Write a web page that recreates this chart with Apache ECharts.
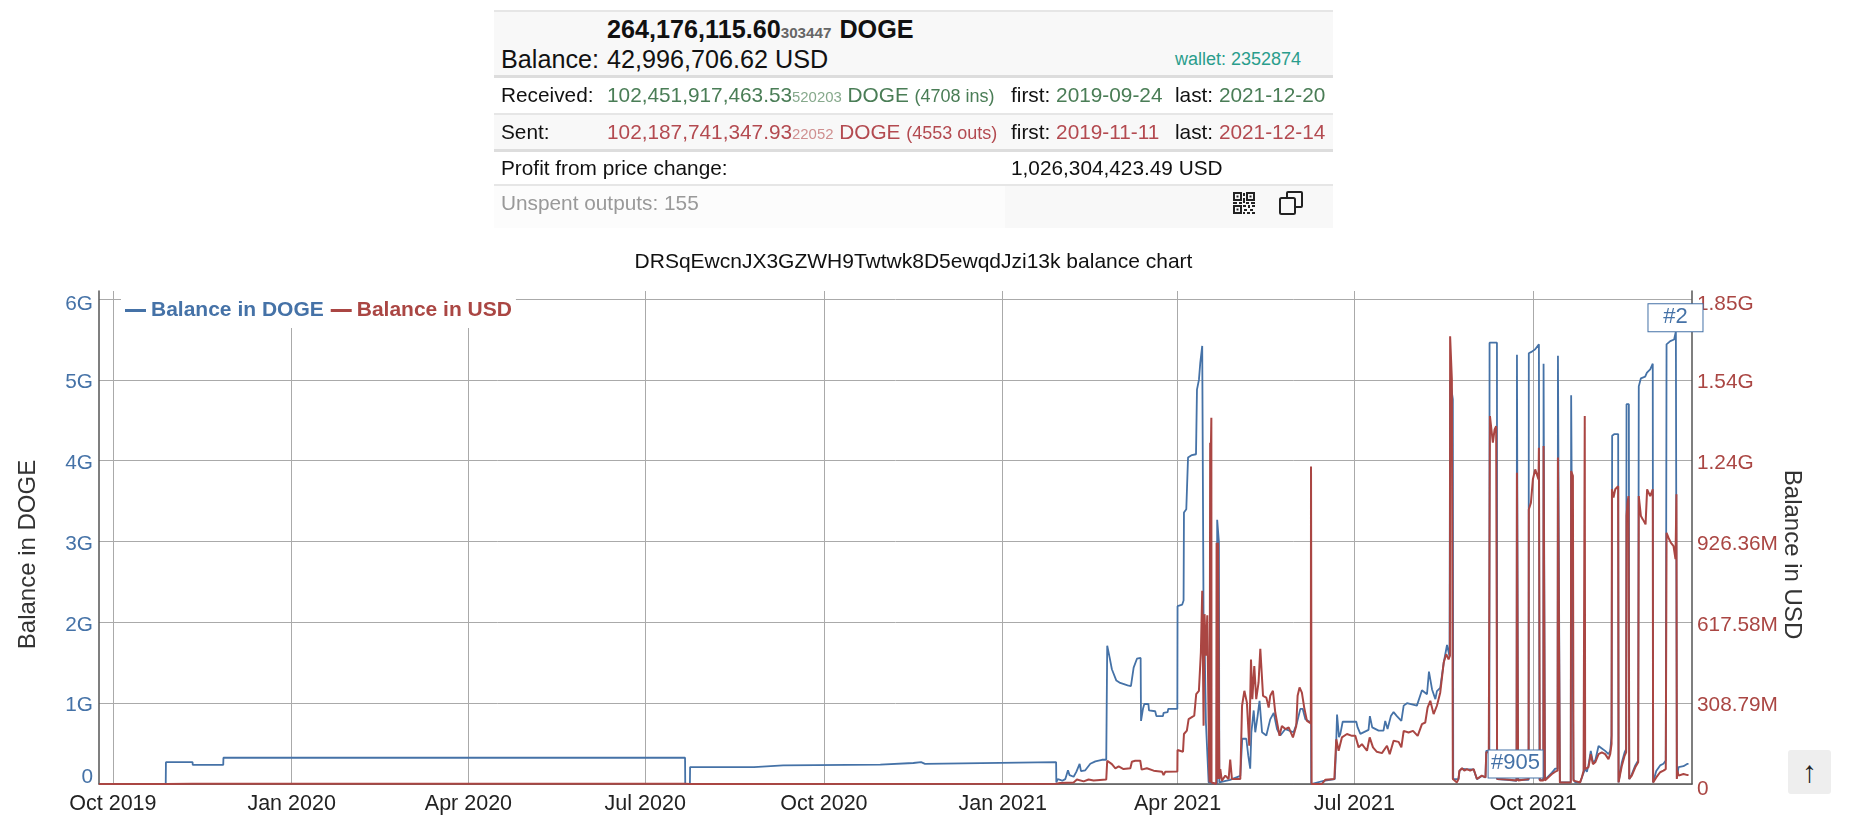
<!DOCTYPE html>
<html>
<head>
<meta charset="utf-8">
<title>DRSqEwcnJX3GZWH9Twtwk8D5ewqdJzi13k balance chart</title>
<script src="https://cdn.jsdelivr.net/npm/echarts@6/dist/echarts.min.js"></script>
<style>
html, body { margin: 0; padding: 0; background: #fff; font-family: "Liberation Sans", Arial, sans-serif; }
#chart1 { position: absolute; left: 0; top: 0; width: 1854px; height: 815px; }
#info { position: absolute; left: 494px; top: 10px; width: 839px; height: 218px; color: #111; font-size: 20.8px; }
.row { position: absolute; left: 0; width: 839px; box-sizing: border-box; }
.row span, .row svg { position: absolute; white-space: nowrap; }
.gray { background: #f8f8f8; }
.c1 { left: 7px; } .c2 { left: 113px; } .c3 { left: 517px; } .c4 { left: 681px; }
.big { font-size: 25.2px; }
.green { color: #4a7d56; } .green small { color: #86a98c; font-size: 14.9px; } .green i { font-style: normal; font-size: 18px; }
.red { color: #b34a50; } .red small { color: #cf8f8f; font-size: 14.9px; } .red i { font-style: normal; font-size: 18px; }
#up { position: absolute; left: 1788px; top: 750px; width: 43px; height: 44px; background: #eee; border-radius: 3px; text-align: center; font-size: 30px; line-height: 44px; color: #222; }
</style>
</head>
<body>
<div id="chart1"></div>

<div id="info">
  <div class="row gray" style="top:0;height:68px;border-top:2px solid #e6e6e6;border-bottom:3px solid #ddd">
    <span class="c2 big" style="top:2px;line-height:30px"><b>264,176,115.60<small style="font-size:15.2px;color:#666">303447</small> <span style="position:static;margin-left:1px">DOGE</span></b></span>
    <span class="c1 big" style="top:32px;line-height:30px">Balance:</span>
    <span class="c2 big" style="top:32px;line-height:30px">42,996,706.62 USD</span>
    <span class="c4" style="top:33px;line-height:28px;font-size:18px;color:#2a9d8c">wallet: 2352874</span>
  </div>
  <div class="row" style="top:68px;height:37px;border-bottom:2px solid #e6e6e6">
    <span class="c1" style="top:2px;line-height:30px">Received:</span>
    <span class="c2 green" style="top:2px;line-height:30px">102,451,917,463.53<small>520203</small> DOGE <i>(4708 ins)</i></span>
    <span class="c3" style="top:2px;line-height:30px">first: <em class="green" style="font-style:normal">2019-09-24</em></span>
    <span class="c4" style="top:2px;line-height:30px">last: <em class="green" style="font-style:normal">2021-12-20</em></span>
  </div>
  <div class="row gray" style="top:105px;height:37px;border-bottom:3px solid #ddd">
    <span class="c1" style="top:2px;line-height:30px">Sent:</span>
    <span class="c2 red" style="top:2px;line-height:30px">102,187,741,347.93<small>22052</small> DOGE <i>(4553 outs)</i></span>
    <span class="c3" style="top:2px;line-height:30px">first: <em class="red" style="font-style:normal">2019-11-11</em></span>
    <span class="c4" style="top:2px;line-height:30px">last: <em class="red" style="font-style:normal">2021-12-14</em></span>
  </div>
  <div class="row" style="top:142px;height:34px;border-bottom:2px solid #e6e6e6">
    <span class="c1" style="top:1px;line-height:30px">Profit from price change:</span>
    <span class="c3" style="top:1px;line-height:30px">1,026,304,423.49 USD</span>
  </div>
  <div class="row" style="top:176px;height:42px;background:#fcfcfc">
    <span class="c1" style="top:2px;line-height:30px;color:#999">Unspent outputs: 155</span>
    <span class="gray" style="left:511px;top:0;width:328px;height:42px"></span>
    <!-- qr -->
    <svg style="left:739px;top:6px" width="22" height="22" viewBox="0 0 22 22" fill="#222">
      <path d="M0 0h9v9H0zM2 2v5h5V2zM13 0h9v9h-9zM15 2v5h5V2zM0 13h9v9H0zM2 15v5h5v-5z" fill-rule="evenodd"/>
      <path d="M3.500 3.500h2v2h-2zM16.500 3.500h2v2h-2zM3.500 16.500h2v2h-2zM10 1h2v3h-2zM10 6h2v5h-2zM0 10h4v2H0zM6 10h3v2H6zM13 10h3v2h-3zM18 10h4v2h-4zM10 13h3v2h-3zM15 13h2v3h-2zM19 13h3v2h-3zM11 17h3v2h-3zM17 17h3v2h-3zM10 20h2v2h-2zM14 20h3v2h-3zM19 20h3v2h-3z"/>
    </svg>
    <!-- copy -->
    <svg style="left:785px;top:5px" width="24" height="24" viewBox="0 0 24 24" fill="none" stroke="#222" stroke-width="2">
      <rect x="1" y="7" width="15" height="16" rx="1.500"/>
      <path d="M8 7V2a1 1 0 0 1 1-1h13a1 1 0 0 1 1 1v13a1 1 0 0 1-1 1h-6"/>
    </svg>
  </div>
</div>

<div id="up">↑</div>

<script>
// 横轴刻度，单位是距 2019-10-01 的天数
const tickDays = [0, 92, 183, 274, 366, 458, 548, 639, 731];
const tickLabels = ['Oct 2019', 'Jan 2020', 'Apr 2020', 'Jul 2020', 'Oct 2020', 'Jan 2021', 'Apr 2021', 'Jul 2021', 'Oct 2021'];
const dogeTickLabels = ['0', '1G', '2G', '3G', '4G', '5G', '6G'];
const usdTickLabels = ['0', '308.79M', '617.58M', '926.36M', '1.24G', '1.54G', '1.85G'];
const usdStep = 308.79;

// DOGE 余额 (单位 G)
const dogeDays = [
    -7.15, 27.2, 27.3, 41, 41.1, 56.8, 56.9, 294.5, 294.6, 297, 297.1, 330, 345, 395, 412, 416, 418, 485.5, 485.6,
    486.3, 487.6, 488.7, 490.2, 491.6, 492.4, 494.5, 495.9, 497.6, 498.3, 500.5, 503.1, 505.7, 509.1, 511.3,
    511.8, 512.5, 513, 514.2, 516.5, 518.5, 522.3, 524, 525.4, 527.1, 529, 529.2, 530.2, 530.9, 533, 533.3,
    536.5, 537.1, 540.5, 540.8, 542.9, 543.2, 547.9, 548, 550.4, 551.1, 551.3, 552.5, 553.4, 555.4, 557.5,
    558, 559, 559.7, 560.7, 561.2, 561.4, 561.9, 562.6, 564, 568.3, 568.4, 569, 569.3, 569.5, 575, 580.3,
    581.3, 583.4, 584.4, 585.4, 586, 587.2, 588, 589.2, 590.2, 591.5, 593.7, 595.7, 597.5, 599.2, 600.9,
    603.5, 607.7, 609.5, 611.2, 612.4, 613.8, 616.7, 616.8, 623.2, 628.9, 629.4, 630.1, 630.6, 631.1, 631.8,
    633, 640, 640.7, 642.1, 646.3, 647, 648.2, 651.5, 654, 654.9, 656.1, 657.8, 659.2, 660.9, 663.2, 664.4,
    666.1, 671.2, 673.8, 676.4, 677.4, 679, 680.7, 681.5, 683.2, 685, 686.7, 688, 688.3, 689.2, 689.7, 689.9,
    692.6, 693.1, 694.4, 696.9, 700.4, 702.1, 704.6, 706.5, 706.9, 708.5, 708.6, 709.3, 712.4, 712.5, 717.5,
    722.5, 722.7, 723.2, 723.3, 728.7, 728.8, 730.4, 732.1, 734, 734.3, 736.3, 736.4, 736.9, 737.1, 738.1,
    740.7, 742.4, 743.6, 743.8, 744.6, 744.8, 750.4, 750.6, 751.5, 751.8, 752.7, 755.2, 756.1, 757.8, 758.7,
    759.5, 760.7, 761.8, 763, 764.7, 766.4, 768.1, 769.8, 770.7, 771.4, 771.7, 772.9, 774.8, 775, 775.8,
    776.7, 778.1, 778.9, 779.1, 780.3, 780.5, 781.8, 783.6, 785.1, 785.4, 786.5, 788.7, 789.6, 791.3, 792.6,
    792.8, 794.4, 796.4, 798.1, 799.3, 799.7, 801.6, 803.6, 804.5, 805, 805.9, 808.4, 810.5, 811
];
const dogeBalance = [
    0, 0, 0.27, 0.27, 0.236, 0.236, 0.325, 0.325, 0, 0, 0.21, 0.21, 0.23, 0.24, 0.26, 0.27, 0.25, 0.27, 0.02,
    0.06, 0.05, 0.04, 0.06, 0.17, 0.11, 0.09, 0.15, 0.25, 0.16, 0.17, 0.25, 0.28, 0.3, 0.3,
    1.71, 1.71, 1.57, 1.42, 1.28, 1.25, 1.22, 1.21, 1.44, 1.55, 1.56, 0.78, 0.93, 0.99, 0.99, 0.91,
    0.9, 0.84, 0.84, 0.88, 0.89, 0.93, 0.93, 2.2, 2.22, 2.27, 3.36, 3.4, 4.04, 4.07, 4.08,
    4.88, 5, 5.21, 5.42, 5.42, 2, 1.79, 0.76, 0.02, 0, 3.27, 3.29, 2.99, 0.02, 0.05, 0.1,
    0.56, 0.56, 0.35, 0.19, 0.64, 0.91, 0.64, 0.84, 1.03, 0.64, 0.6, 0.8, 0.88, 0.68, 0.6,
    0.68, 0.64, 0.76, 0.93, 0.93, 0.8, 0.76, 0, 0.04, 0.06, 0.31, 0.86, 0.86, 0.58, 0.62,
    0.77, 0.77, 0.7, 0.62, 0.67, 0.84, 0.7, 0.66, 0.66, 0.78, 0.68, 0.84, 0.89, 0.84, 0.78, 0.97,
    1, 0.97, 1.16, 1.11, 1.39, 1.17, 1.05, 1.15, 1.19, 1.5, 1.72, 1.58, 5, 5, 4.76, 0.06,
    0.06, 0.16, 0.19, 0.18, 0.18, 0.06, 0.1, 0.08, 0.41, 0.41, 5.46, 5.46, 5.46, 0.06, 0.05,
    0.04, 5.31, 5.31, 0.05, 0.05, 5.33, 5.35, 5.38, 5.44, 0.05, 0.05, 5.2, 5.2, 0.05, 0.05,
    0.14, 0.19, 0.19, 5.3, 5.3, 0.02, 0.02, 4.81, 4.8, 0.06, 0.02, 0.02, 0.08, 0.19, 0.15,
    0.23, 0.41, 0.27, 0.29, 0.47, 0.44, 0.41, 0.37, 0.41, 0.6, 4.31, 4.33, 4.33, 0.02, 0.04,
    0.27, 0.39, 0.43, 4.7, 4.7, 0.06, 0.12, 0.23, 0.29, 4.92, 5.02, 5.04, 5.09, 5.13, 5.2,
    0.02, 0.16, 0.23, 0.25, 0.29, 5.44, 5.48, 5.5, 5.6, 0.08, 0.21, 0.22, 0.25, 0.25
];

// USD 余额 (单位 M)
const usdDays = [
    -7.15, 27.2, 27.3, 41, 57, 294.5, 294.6, 297, 297.1, 485.5, 485.6, 487.6, 494.5, 496.2, 499.7, 502.2, 504.8, 511.3,
    511.8, 512.5, 514.2, 516, 517.7, 520.2, 523.7, 524.5, 526.2, 528.8, 529.5, 532.2, 535.7, 540, 540.8, 541.7,
    547.9, 548, 550.8, 551.3, 552.8, 553.7, 556.6, 557.6, 559, 560, 560.7, 561.4, 561.9, 562.6, 563.3, 564, 564.3,
    564.5, 564.8, 565, 565.2, 565.4, 565.5, 566.2, 567.9, 568.1, 568.4, 568.6, 568.8, 569.3, 569.5, 570, 570.8,
    572.6, 574.3, 575.1, 576, 578.6, 580.3, 581.2, 582.4, 583.7, 584.9, 585.8, 586.5, 587.5, 588.5, 589.7, 590.6,
    592, 593.7, 594.9, 595.7, 597.1, 598.3, 600.5, 601.7, 603.5, 605.2, 607.4, 609.1, 609.8, 610.8, 612, 613.2,
    614.6, 616.6, 616.7, 616.9, 617, 622.3, 624, 628.7, 629.4, 629.7, 630.9, 632.6, 635.2, 637.8, 639.5, 641.2,
    642.9, 645.5, 646.9, 648.6, 650.6, 653.2, 655.8, 657.2, 659.2, 661.8, 663.2, 664.4, 666.9, 669.2, 671.6, 673.8,
    675.5, 676.7, 678.1, 679.8, 681.5, 683.2, 685, 686.3, 687.5, 688.2, 688.3, 688.9, 689.2, 689.5, 689.7, 690.2,
    691.8, 692.6, 693.1, 694.4, 695.6, 696.9, 698.6, 700.4, 701.2, 702.1, 704.6, 706.5, 706.9, 708.2, 708.7, 708.8,
    709.3, 710.3, 711.2, 712, 712.4, 712.5, 717.5, 722.5, 722.7, 723.2, 723.3, 728.7, 728.8, 729.9, 730.9, 732.1,
    733.8, 734, 734.3, 734.5, 736.3, 736.4, 736.9, 737.1, 738.1, 740.7, 742.4, 743.6, 743.8, 744.6, 744.8, 750.4,
    750.6, 751.5, 751.8, 755.2, 756.1, 757, 757.5, 757.6, 757.8, 759.5, 760.7, 761.8, 763, 764.7, 766.4, 768.1,
    769.8, 770.7, 771.4, 771.6, 772.4, 773.3, 774.8, 775, 775.8, 776.7, 778.1, 778.9, 779.1, 779.6, 780.1, 780.5,
    781.8, 783.6, 785.1, 785.4, 786.5, 787.5, 788.9, 789.7, 791.3, 792.6, 792.8, 794.4, 796.4, 798.1, 799.3, 799.7,
    800.7, 801.9, 803.3, 804.3, 804.8, 805, 805.3, 805.9, 808.4, 810.5, 811
];
const usdBalance = [
    0, 0, 0.7, 0.7, 1, 1.2, 0, 0, 0.7, 1.2, 0, 4, 6, 17, 10, 17, 13, 17,
    89, 93, 76, 60, 67, 57, 60, 85, 89, 89, 55, 60, 51, 47, 34, 47,
    48, 130, 123, 191, 204, 248, 261, 343, 356, 502, 738, 223, 649, 490, 645, 235, 45,
    6, 1304, 19, 1304, 1399, 6, 0, 0, 922, 922, 19, 922, 922, 19, 57, 13,
    32, 19, 93, 19, 19, 19, 299, 356, 311, 146, 476, 324, 451, 324, 388, 517,
    337, 330, 292, 337, 356, 273, 184, 222, 210, 216, 178, 222, 337, 369, 349, 292,
    241, 232, 1213, 1213, 0, 0, 16, 19, 127, 171, 127, 178, 191, 184, 184, 140,
    152, 127, 178, 140, 123, 118, 146, 114, 165, 161, 140, 203, 197, 203, 184, 229,
    235, 292, 318, 267, 299, 349, 464, 496, 476, 490, 1711, 1711, 1545, 1545, 19, 13,
    6, 19, 51, 60, 51, 57, 51, 57, 64, 19, 32, 25, 121, 121, 121, 1406,
    1406, 1304, 1355, 1367, 1367, 19, 17, 13, 1189, 1189, 13, 19, 1049, 1075, 1164, 1202,
    1164, 1285, 1285, 13, 13, 1291, 1291, 13, 13, 38, 47, 51, 1247, 1247, 6, 6,
    1196, 1177, 13, 6, 25, 51, 45, 1406, 57, 64, 114, 76, 83, 114, 121, 114,
    95, 114, 153, 1126, 1094, 1126, 1138, 6, 13, 70, 108, 121, 1024, 1075, 1100, 19,
    32, 64, 83, 1100, 1024, 1011, 992, 1126, 1100, 1126, 6, 25, 45, 51, 57, 960,
    941, 922, 909, 859, 1107, 19, 51, 32, 38, 34, 34
];

// 标注方框
const noteNames = ['#905', '#2'];
const noteDays = [722, 804.3];
const noteValues = [0.08, 5.6];

function initChart() {
    const chart = echarts.init(document.getElementById('chart1'), null, { renderer: 'canvas' });
    const blue = '#4572A7';
    const red = '#AA4643';
    const FONT = '"Liberation Sans", Arial, sans-serif';

    const option = {
        animation: false,
        textStyle: { fontFamily: FONT },
        title: {
            text: 'DRSqEwcnJX3GZWH9Twtwk8D5ewqdJzi13k balance chart',
            left: 913.5,
            top: 252,
            textAlign: 'center',
            padding: 0,
            textStyle: { fontSize: 21, fontWeight: 'normal', color: '#111', fontFamily: FONT }
        },
        legend: {
            left: 121,
            top: 291,
            padding: [9, 4, 7, 4],
            itemGap: 7,
            itemWidth: 21,
            itemHeight: 3,
            icon: 'rect',
            backgroundColor: '#fff',
            data: [
                { name: 'Balance in DOGE', textStyle: { color: blue } },
                { name: 'Balance in USD', textStyle: { color: red } }
            ],
            textStyle: { fontSize: 21, fontWeight: 'bold', fontFamily: FONT }
        },
        grid: { left: 99, right: 162, top: 291, bottom: 30 },
        xAxis: {
            type: 'value',
            min: -7.15,
            max: 812.8,
            axisLine: { lineStyle: { color: '#555', width: 1.5 } },
            axisTick: { show: false, customValues: tickDays },
            axisLabel: {
                customValues: tickDays,
                fontSize: 21.5,
                color: '#222',
                margin: 9,
                formatter: function (value) {
                    const i = tickDays.indexOf(value);
                    return i >= 0 ? tickLabels[i] : '';
                }
            },
            splitLine: { show: true, lineStyle: { color: '#aaa', width: 1 } }
        },
        yAxis: [
            {
                type: 'value',
                name: 'Balance in DOGE',
                nameLocation: 'middle',
                nameRotate: 90,
                nameGap: 71,
                nameMoveOverlap: false,
                nameTextStyle: { fontSize: 24, color: '#333', padding: [0, 34, 0, 0], verticalAlign: 'middle' },
                min: 0,
                max: 6.1,
                interval: 1,
                axisLine: { show: true, onZero: false, lineStyle: { color: '#555', width: 1.5 } },
                axisTick: { show: false },
                axisLabel: {
                    fontSize: 20.8,
                    color: blue,
                    margin: 6,
                    showMaxLabel: false,
                    padding: [5, 0, 0, 0],
                    formatter: function (value) {
                        const text = dogeTickLabels[Math.round(value)] || '';
                        if (text === '0') return '{bottom|' + text + '}';
                        if (text === '6G') return '{top|' + text + '}';
                        return text;
                    },
                    rich: {
                        bottom: { fontSize: 20.8, color: blue, padding: [0, 0, 18, 0] },
                        top: { fontSize: 20.8, color: blue, padding: [5, 0, 0, 0] }
                    }
                },
                splitLine: { show: true, showMaxLine: false, lineStyle: { color: '#aaa', width: 1 } }
            },
            {
                type: 'value',
                name: 'Balance in USD',
                nameLocation: 'middle',
                nameRotate: -90,
                nameGap: 100,
                nameMoveOverlap: false,
                nameTextStyle: { fontSize: 24, color: '#333', padding: [0, 0, 0, 34], verticalAlign: 'middle' },
                min: 0,
                max: usdStep * 6.1,
                interval: usdStep,
                axisLine: { show: true, onZero: false, lineStyle: { color: '#555', width: 1.5 } },
                axisTick: { show: false },
                axisLabel: {
                    fontSize: 20.8,
                    color: red,
                    margin: 5,
                    showMaxLabel: false,
                    padding: [5, 0, 0, 0],
                    formatter: function (value) {
                        const text = usdTickLabels[Math.round(value / usdStep)] || '';
                        return text === '1.85G' || text === '0' ? '{top|' + text + '}' : text;
                    },
                    rich: {
                        top: { fontSize: 20.8, color: red, padding: [5, 0, 0, 0] }
                    }
                },
                splitLine: { show: false }
            }
        ],
        series: [
            {
                name: 'Balance in DOGE',
                type: 'line',
                yAxisIndex: 0,
                showSymbol: false,
                lineStyle: { color: blue, width: 1.8 },
                itemStyle: { color: blue },
                data: dogeDays.map((d, i) => [d, dogeBalance[i]]),
                markPoint: {
                    z: 20,
                    symbol: 'circle',
                    symbolSize: 0.1,
                    silent: true,
                    data: noteNames.map((name, i) => ({
                        name: name,
                        coord: [noteDays[i], noteValues[i]],
                        label: {
                            show: true,
                            formatter: name,
                            position: 'top',
                            distance: 0,
                            width: 54,
                            height: 27,
                            lineHeight: 29,
                            align: 'center',
                            backgroundColor: '#fff',
                            borderColor: blue,
                            borderWidth: 1,
                            color: blue,
                            fontSize: 22
                        }
                    }))
                }
            },
            {
                name: 'Balance in USD',
                type: 'line',
                yAxisIndex: 1,
                showSymbol: false,
                lineStyle: { color: red, width: 2 },
                itemStyle: { color: red },
                data: usdDays.map((d, i) => [d, usdBalance[i]])
            }
        ]
    };

    chart.setOption(option);
}

window.addEventListener('load', initChart);
</script>
</body>
</html>
